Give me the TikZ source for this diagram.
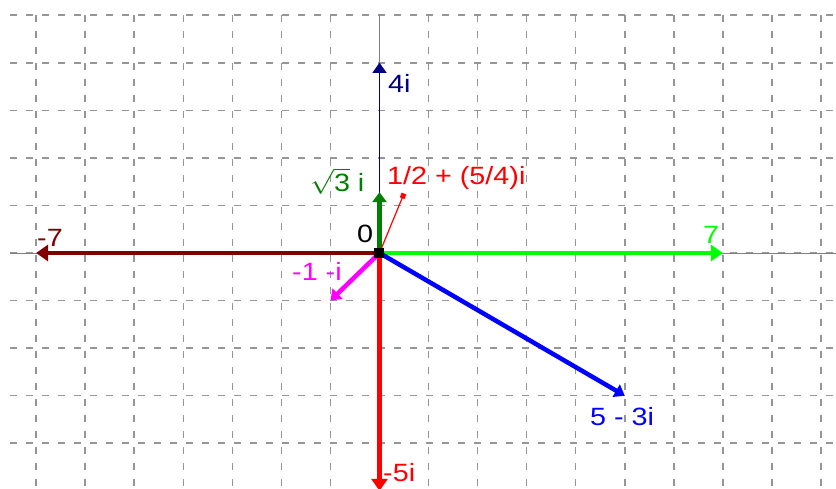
\documentclass[tikz,border=0pt]{standalone}
\usepackage{fontspec}
\setmainfont{Liberation Sans}
\usetikzlibrary{arrows.meta}
\definecolor{cnavy}{RGB}{0,0,128}
\definecolor{cdgreen}{RGB}{0,128,0}
\definecolor{cred}{RGB}{255,0,0}
\definecolor{clime}{RGB}{0,255,0}
\definecolor{cmaroon}{RGB}{128,0,0}
\definecolor{cblue}{RGB}{0,0,255}
\definecolor{cmag}{RGB}{255,0,255}
\definecolor{gridgray}{RGB}{150,150,150}
\definecolor{axgray}{RGB}{128,128,128}
\newcommand{\widetext}[1]{\scalebox{1.15}[1]{#1}}
\tikzset{
  gridline/.style={draw=gridgray, line width=1.5pt, dash pattern=on 7pt off 9pt},
  axisline/.style={draw=axgray, line width=1pt},
  vec/.style={line width=4.5pt, -{Triangle[length=12pt,width=16pt]}},
  smallvec/.style={line width=4.5pt, -{Triangle[length=10pt,width=14pt]}},
  thinvec/.style={line width=1.2pt, -{Triangle[length=10pt,width=14pt]}},
  lbl/.style={inner sep=0pt, anchor=base west, font=\fontsize{25}{30}\selectfont},
}
\begin{document}
\begin{tikzpicture}[x=49.06pt, y=47.56pt]
\useasboundingbox[fill=white] (-379.5pt,-235pt) rectangle (456.5pt,253pt);
% grid
\foreach \k in {-4,...,5} {
  \draw[gridline] (-369.5pt,\k) -- (456.5pt,\k);
}
\foreach \k in {-7,...,9} {
  \draw[gridline] (\k,5) -- (\k,-235pt);
}
% axes
\draw[axisline] (-369.5pt,0) -- (456.5pt,0);
\draw[axisline] (0,5) -- (0,-235pt);
% points
\coordinate (O) at (0,0);
\coordinate (p4i) at (0,4);
\coordinate (ps3) at (0,1.28);
\coordinate (ph) at (0.5,1.25);
\coordinate (p7) at (7,0);
\coordinate (pm7) at (-7,0);
\coordinate (pm5i) at (0,-5);
\coordinate (p53) at (5,-3);
\coordinate (pm1) at (-1,-1);
% vectors
\draw[thinvec, cnavy] (O) -- (p4i);
\draw[smallvec, cdgreen] (O) -- (ps3);
\draw[cred, line width=1.2pt, -{Square[length=5pt,width=5pt]}] (O) -- (ph);
\draw[vec, cmaroon] (O) -- (pm7);
\draw[vec, clime] (O) -- (p7);
\draw[vec, cred] (O) -- (pm5i);
\draw[smallvec, cblue] (O) -- (p53);
\draw[smallvec, cmag] (O) -- (pm1);
\node[fill=black, minimum size=10pt, inner sep=0pt] (Osq) at (O) {};
% labels
\node[lbl, text=cnavy] (l4i) at (8.5pt,161pt) {\widetext{4i}};
\node[lbl, text=cdgreen] (ls3) at (-69.5pt,62pt) {\widetext{$\sqrt{\mbox{3}}$ i}};
\node[lbl, text=cred] (lh) at (7.5pt,69pt) {\widetext{1/2 + (5/4)i}};
\node[lbl, text=black] (l0) at (-22.5pt,11pt) {\widetext{0}};
\node[lbl, text=cmaroon] (lm7) at (-342.5pt,7pt) {\widetext{-7}};
\node[lbl, text=clime] (l7) at (323.5pt,10pt) {\widetext{7}};
\node[lbl, text=cmag] (lm1) at (-87.5pt,-27pt) {\widetext{-1 -i}};
\node[lbl, text=cblue] (l53) at (210.5pt,-172pt) {\widetext{5 - 3i}};
\node[lbl, text=cred] (lm5i) at (3.5pt,-228pt) {\widetext{-5i}};
\end{tikzpicture}
\end{document}
